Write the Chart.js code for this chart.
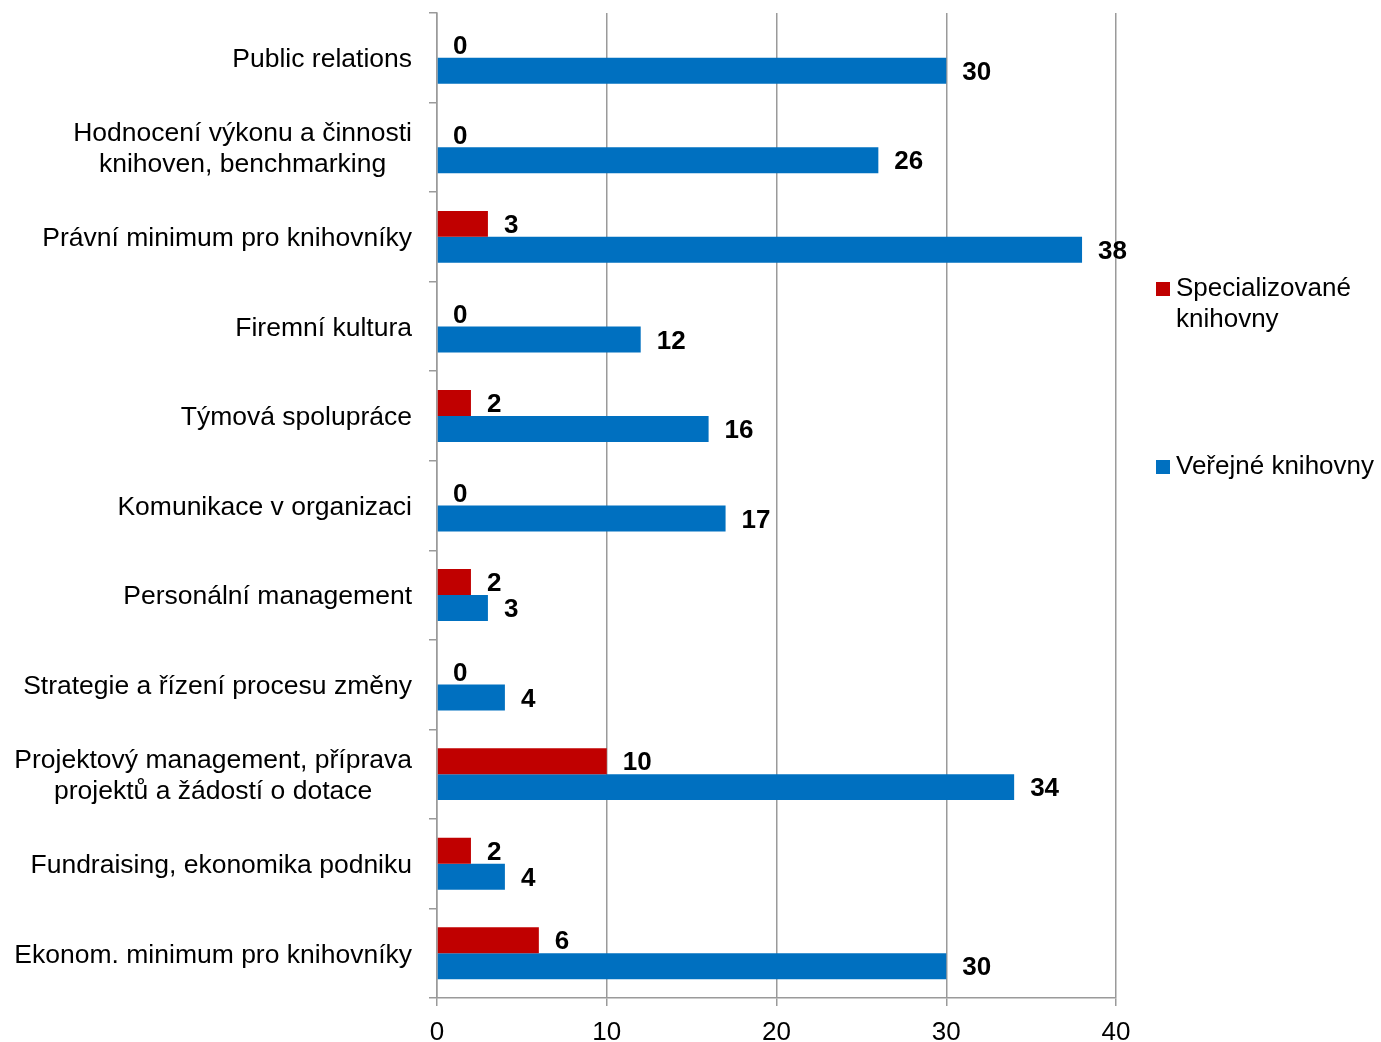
<!DOCTYPE html>
<html>
<head>
<meta charset="utf-8">
<script src="https://cdn.jsdelivr.net/npm/chart.js@4/dist/chart.umd.min.js"></script>
<style>
  html, body { margin: 0; padding: 0; background: #fff; }
  #wrap { width: 1381px; height: 1042px; position: relative; }
</style>
</head>
<body>
<div id="wrap"><canvas id="barChart"></canvas></div>
<script>
const categories = [
    ['Public relations'],
    ['Hodnocení výkonu a činnosti', 'knihoven, benchmarking'],
    ['Právní minimum pro knihovníky'],
    ['Firemní kultura'],
    ['Týmová spolupráce'],
    ['Komunikace v organizaci'],
    ['Personální management'],
    ['Strategie a řízení procesu změny'],
    ['Projektový management, příprava', 'projektů a žádostí o dotace'],
    ['Fundraising, ekonomika podniku'],
    ['Ekonom. minimum pro knihovníky']
];
const specializovane = [0, 0, 3, 0, 2, 0, 2, 0, 10, 2, 6];
const verejne = [30, 26, 38, 12, 16, 17, 3, 4, 34, 4, 30];
const seriesNames = [['Specializované', 'knihovny'], ['Veřejné knihovny']];
const xTicks = [0, 10, 20, 30, 40];

const FONT = '"Liberation Sans", Arial, sans-serif';
const gridColor = '#9a9a9a';

// vlastní popisky kategorií (řádky zarovnané na střed bloku)
const categoryLabels = {
    id: 'categoryLabels',
    afterDraw(chart) {
        const ctx = chart.ctx;
        const yScale = chart.scales.y;
        ctx.save();
        ctx.font = '26.5px ' + FONT;
        ctx.fillStyle = '#000';
        ctx.textBaseline = 'middle';
        ctx.textAlign = 'center';
        const right = chart.chartArea.left - 25;
        const lineH = 31;
        categories.forEach((lines, i) => {
            const yc = yScale.getPixelForValue(i) + 2;
            const widest = Math.max(...lines.map(l => ctx.measureText(l).width));
            const cx = right - widest / 2;
            const y0 = yc - (lines.length - 1) * lineH / 2;
            lines.forEach((l, j) => ctx.fillText(l, cx, y0 + j * lineH));
        });
        ctx.restore();
    }
};

// hodnoty u konců sloupců
const valueLabels = {
    id: 'valueLabels',
    afterDatasetsDraw(chart) {
        const ctx = chart.ctx;
        ctx.save();
        ctx.font = 'bold 26px ' + FONT;
        ctx.fillStyle = '#000';
        ctx.textAlign = 'left';
        ctx.textBaseline = 'middle';
        chart.data.datasets.forEach((ds, di) => {
            chart.getDatasetMeta(di).data.forEach((bar, i) => {
                ctx.fillText(String(ds.data[i]), bar.x + 16, bar.y + 2);
            });
        });
        ctx.restore();
    }
};

// legenda vpravo
const sideLegend = {
    id: 'sideLegend',
    afterDraw(chart) {
        const ctx = chart.ctx;
        ctx.save();
        ctx.font = '26px ' + FONT;
        ctx.textBaseline = 'middle';
        ctx.textAlign = 'left';
        const x = 1156;
        const tops = [289, 467];
        chart.data.datasets.forEach((ds, di) => {
            const y = tops[di];
            ctx.fillStyle = ds.backgroundColor;
            ctx.fillRect(x, y - 7, 14, 14);
            ctx.fillStyle = '#000';
            seriesNames[di].forEach((l, j) => ctx.fillText(l, x + 20, y + j * 31));
        });
        ctx.restore();
    }
};

new Chart(document.getElementById('barChart'), {
    type: 'bar',
    data: {
        labels: categories.map(c => c.join(' ')),
        datasets: [
            {
                label: seriesNames[0].join(' '),
                data: specializovane,
                backgroundColor: '#C00000',
                categoryPercentage: 0.58,
                barPercentage: 1.0
            },
            {
                label: seriesNames[1].join(' '),
                data: verejne,
                backgroundColor: '#0070C0',
                categoryPercentage: 0.58,
                barPercentage: 1.0
            }
        ]
    },
    options: {
        indexAxis: 'y',
        responsive: true,
        maintainAspectRatio: false,
        animation: false,
        layout: { padding: { top: 13, right: 265, left: 0, bottom: 0 } },
        plugins: {
            legend: { display: false },
            tooltip: { enabled: false }
        },
        scales: {
            x: {
                min: 0,
                max: 40,
                afterBuildTicks(scale) {
                    scale.ticks = xTicks.map(v => ({ value: v }));
                },
                afterFit(scale) { scale.height = 44; },
                grid: { color: gridColor, lineWidth: 1.5, tickLength: 8 },
                border: { color: gridColor, width: 1.5 },
                ticks: {
                    color: '#000',
                    padding: 11,
                    font: { family: FONT, size: 26 }
                }
            },
            y: {
                afterFit(scale) { scale.width = 437; },
                grid: {
                    offset: true,
                    drawOnChartArea: false,
                    color: gridColor,
                    lineWidth: 1.5,
                    tickLength: 8
                },
                border: { color: gridColor, width: 1.5 },
                ticks: { display: false }
            }
        }
    },
    plugins: [categoryLabels, valueLabels, sideLegend]
});
</script>
</body>
</html>
